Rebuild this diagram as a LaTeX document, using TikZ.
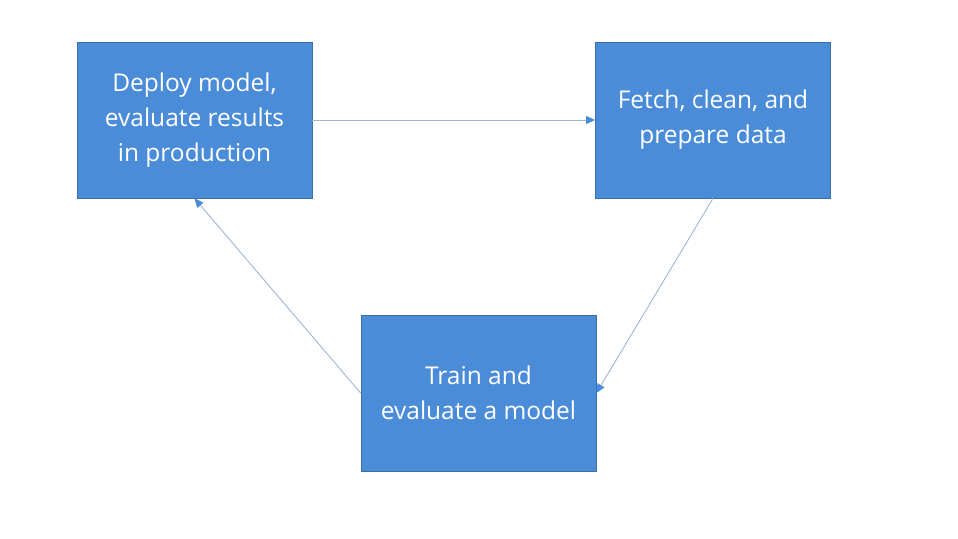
\documentclass[tikz,border=0pt]{standalone}
\usepackage{fontspec}
\setmainfont{Open Sans}
\usetikzlibrary{arrows.meta}
\definecolor{boxblue}{RGB}{74,140,216}
\definecolor{boxedge}{RGB}{60,110,168}
\definecolor{linkgray}{RGB}{160,180,216}

\begin{document}
\begin{tikzpicture}[x=1pt, y=-1pt,
  stage/.style={draw=boxedge, fill=boxblue, text=white, line width=0.8pt,
    minimum width=235pt, minimum height=156pt, align=center,
    font=\fontsize{24.5}{35}\selectfont},
  link/.style={draw=linkgray, line width=0.9pt,
    -{Triangle[length=9pt, width=8pt, color=boxblue]}}]
  \useasboundingbox (0,0) rectangle (958,538);
  \node[stage] (deploy) at (194.5,120) {Deploy model,\\evaluate results\\in production};
  \node[stage] (fetch) at (713,120) {Fetch, clean, and\\prepare data};
  \node[stage] (train) at (478.5,393) {Train and\\evaluate a model};
  \path
  (deploy.east) edge[link] (fetch.west)
  (fetch.south) edge[link] (train.east)
  (train.west) edge[link] (deploy.south)
  ;
\end{tikzpicture}
\end{document}
